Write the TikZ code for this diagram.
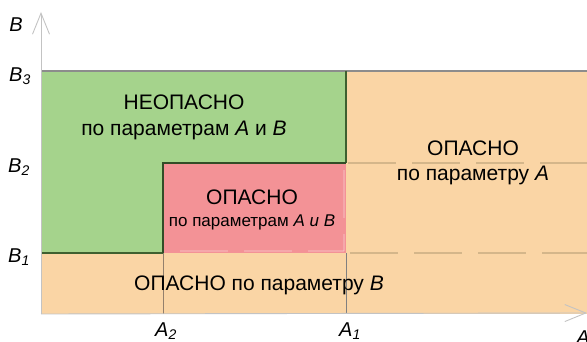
\documentclass[tikz,border=0pt]{standalone}
\usepackage{fontspec}
\setmainfont{Liberation Sans}
\usetikzlibrary{arrows.meta}
\definecolor{safegreen}{RGB}{165,211,140}
\definecolor{dangerred}{RGB}{243,146,150}
\definecolor{dangerorange}{RGB}{250,213,165}
\definecolor{edgegreen}{RGB}{62,96,48}
\definecolor{dashtan}{RGB}{212,182,138}
\definecolor{axisgray}{RGB}{195,195,195}

\begin{document}
\begin{tikzpicture}[x=1pt,y=-1pt]
                \tikzstyle{zone}  = [font=\fontsize{21}{24}\selectfont, inner sep=1pt]
                \tikzstyle{zonesmall}  = [font=\fontsize{17}{20}\selectfont, inner sep=1pt]
                \tikzstyle{tick}  = [font=\fontsize{20}{22}\selectfont\itshape, inner sep=1pt]
                \tikzstyle{axis}  = [draw=axisgray, line width=0.9pt, -{Straight Barb[length=21pt,width=17pt,line width=0.9pt]}]
                \tikzstyle{level} = [dashtan, line width=1.3pt, dash pattern=on 48pt off 16pt]
                \useasboundingbox (0,0) rectangle (587,342);
                \coordinate (O) at (41,314);
                \coordinate (Btop) at (41,12);
                \coordinate (Aend) at (587,313);
                %%Zones
                \fill[dangerorange] (42,71) rectangle (587,314);
                \fill[safegreen] (42,71) rectangle (346,253);
                \fill[dangerred] (163,163) rectangle (346,253);
                %%Levels
                \draw[level] (348,163) -- (587,163);
                \draw[level] (350,253) -- (587,253);
                \draw[white, opacity=0.2, line width=1.3pt, dash pattern=on 48pt off 16pt] (180,251) -- (344,251);
                \draw[white, opacity=0.2, line width=1.3pt, dash pattern=on 48pt off 16pt] (344,170) -- (344,251);
                \draw[gray!70!brown, line width=0.6pt] (163,253) -- (163,314);
                \draw[gray, line width=0.6pt] (346,253) -- (346,314);
                %%Borders
                \draw[gray!90, line width=1.6pt] (42,71) -- (587,71);
                \draw[edgegreen, line width=1.2pt] (346,71) -- (346,163);
                \draw[edgegreen, line width=1.2pt] (42,253) -- (163,253);
                \draw[edgegreen!80!black, line width=1.2pt] (163,253) -- (163,163) -- (346,163);
                %%Axes
                \draw[axis] (O) -- (Btop);
                \draw[axis] (O) -- (Aend);
                %%Labels
                \node[zone] (safe1) at (184,102) {НЕОПАСНО};
                \node[zone] (safe2) at (184,130) {по параметрам \textit{A} и \textit{B}};
                \node[zone] (both1) at (252,197) {ОПАСНО};
                \node[zonesmall] (both2) at (252,222) {по параметрам \textit{A и B}};
                \node[zone] (parA1) at (473,148) {ОПАСНО};
                \node[zone] (parA2) at (473,175) {по параметру \textit{A}};
                \node[zone] (parB) at (259,285) {ОПАСНО по параметру \textit{B}};
                \node[tick] (labB) at (16,25) {B};
                \node[tick] (labB3) at (20,76) {B\textsubscript{3}};
                \node[tick] (labB2) at (19,167) {B\textsubscript{2}};
                \node[tick] (labB1) at (19,257) {B\textsubscript{1}};
                \node[tick] (labA2) at (166,331) {A\textsubscript{2}};
                \node[tick] (labA1) at (350,331) {A\textsubscript{1}};
                \node[tick] (labA) at (583,338) {A};
\end{tikzpicture}
\end{document}
